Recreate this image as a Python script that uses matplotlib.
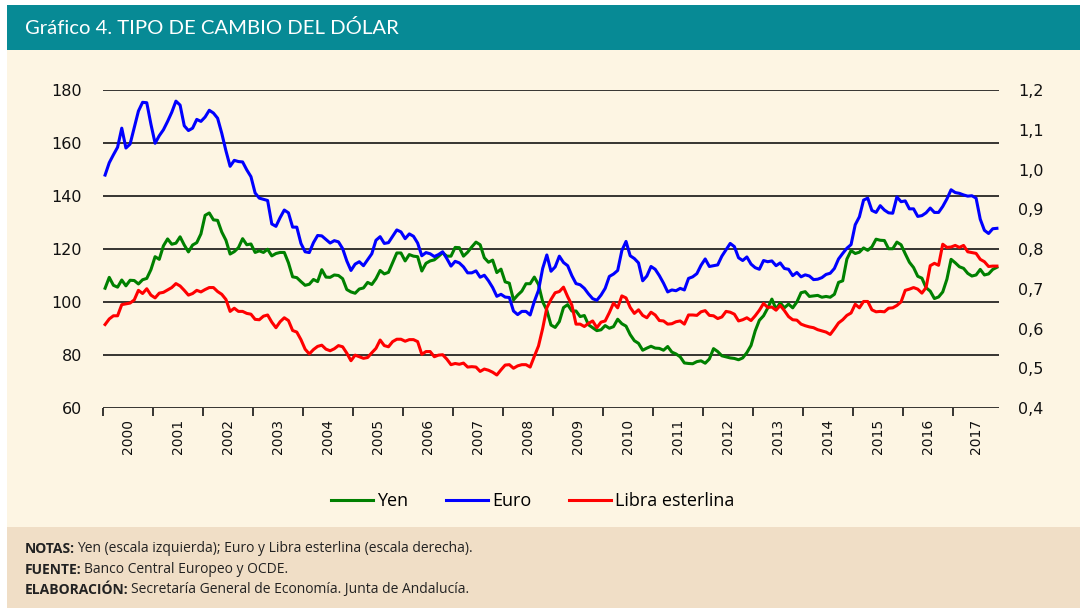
import matplotlib
matplotlib.use("Agg")
import matplotlib.pyplot as plt
import matplotlib.patches as patches
import numpy as np

# monthly data, Jan 2000 - Nov 2017
yen = [105.2, 109.3, 106.3, 105.6, 108.3, 106.1, 108.2, 108.1, 106.8, 108.4, 108.9, 112.2,
       117.1, 116.1, 121.2, 123.8, 121.8, 122.2, 124.6, 121.5, 118.9, 121.5, 122.4, 125.7,
       132.7, 133.6, 131.0, 130.8, 126.4, 123.3, 118.1, 119.0, 120.5, 123.9, 121.6, 121.9,
       118.7, 119.3, 118.7, 119.9, 117.4, 118.3, 118.7, 118.7, 114.8, 109.5, 109.2, 107.7,
       106.3, 106.7, 108.5, 107.7, 112.2, 109.4, 109.3, 110.2, 110.0, 108.8, 104.7, 103.8,
       103.3, 104.9, 105.3, 107.4, 106.6, 108.8, 111.9, 110.6, 111.2, 114.9, 118.5, 118.5,
       115.5, 117.9, 117.3, 117.1, 111.7, 114.6, 115.5, 115.9, 117.2, 118.6, 117.3, 117.3,
       120.6, 120.5, 117.3, 118.8, 120.8, 122.6, 121.6, 116.7, 115.0, 115.8, 111.1, 112.4,
       107.6, 107.1, 100.8, 102.6, 104.1, 106.9, 106.9, 109.4, 106.6, 100.1, 96.9, 91.3,
       90.4, 92.6, 97.9, 99.0, 96.6, 96.6, 94.5, 94.9, 91.4, 90.3, 89.2, 89.5,
       91.1, 90.1, 90.7, 93.5, 91.8, 90.9, 87.7, 85.4, 84.4, 81.8, 82.6, 83.3,
       82.6, 82.5, 81.8, 83.2, 81.1, 80.4, 79.3, 77.0, 76.8, 76.7, 77.5, 77.8,
       76.9, 78.5, 82.4, 81.3, 79.7, 79.3, 78.9, 78.7, 78.2, 78.9, 80.9, 83.6,
       89.1, 93.1, 94.8, 97.7, 101.1, 97.3, 99.7, 97.8, 99.2, 97.8, 100.0, 103.5,
       103.9, 102.1, 102.3, 102.5, 101.8, 102.1, 101.8, 102.9, 107.4, 108.0, 116.2, 119.4,
       118.3, 118.8, 120.4, 119.5, 120.8, 123.7, 123.3, 123.2, 120.1, 120.1, 122.6, 121.6,
       118.2, 115.0, 113.0, 109.7, 109.0, 105.4, 104.1, 101.3, 101.9, 103.8, 108.6, 116.1,
       114.8, 113.3, 112.7, 110.8, 109.8, 110.2, 112.3, 110.2, 110.6, 112.3, 113.1]

euro = [0.986, 1.017, 1.037, 1.056, 1.104, 1.054, 1.064, 1.106, 1.147, 1.169, 1.168, 1.114,
        1.066, 1.085, 1.100, 1.121, 1.144, 1.172, 1.162, 1.110, 1.098, 1.104, 1.126, 1.121,
        1.132, 1.149, 1.142, 1.129, 1.091, 1.047, 1.008, 1.023, 1.020, 1.019, 0.999, 0.982,
        0.941, 0.928, 0.925, 0.922, 0.863, 0.857, 0.879, 0.898, 0.891, 0.855, 0.855, 0.814,
        0.793, 0.791, 0.816, 0.834, 0.833, 0.824, 0.815, 0.821, 0.818, 0.801, 0.770, 0.746,
        0.762, 0.768, 0.758, 0.773, 0.788, 0.822, 0.831, 0.814, 0.816, 0.832, 0.848, 0.843,
        0.826, 0.838, 0.832, 0.815, 0.783, 0.791, 0.788, 0.781, 0.786, 0.793, 0.776, 0.757,
        0.769, 0.765, 0.755, 0.740, 0.740, 0.745, 0.729, 0.734, 0.720, 0.703, 0.681, 0.686,
        0.679, 0.678, 0.644, 0.635, 0.643, 0.643, 0.634, 0.668, 0.696, 0.751, 0.785, 0.744,
        0.755, 0.782, 0.766, 0.758, 0.733, 0.713, 0.710, 0.701, 0.687, 0.675, 0.671, 0.684,
        0.701, 0.731, 0.737, 0.746, 0.796, 0.819, 0.783, 0.776, 0.765, 0.720, 0.732, 0.756,
        0.749, 0.733, 0.714, 0.692, 0.697, 0.695, 0.701, 0.697, 0.726, 0.730, 0.738, 0.759,
        0.775, 0.756, 0.758, 0.760, 0.782, 0.798, 0.814, 0.806, 0.778, 0.771, 0.780, 0.762,
        0.753, 0.749, 0.771, 0.768, 0.770, 0.758, 0.765, 0.751, 0.749, 0.733, 0.741, 0.730,
        0.735, 0.732, 0.723, 0.724, 0.728, 0.736, 0.739, 0.751, 0.775, 0.789, 0.802, 0.811,
        0.861, 0.881, 0.923, 0.928, 0.897, 0.892, 0.909, 0.898, 0.891, 0.890, 0.931, 0.919,
        0.921, 0.901, 0.901, 0.882, 0.884, 0.891, 0.903, 0.892, 0.892, 0.907, 0.926, 0.949,
        0.942, 0.940, 0.936, 0.933, 0.934, 0.928, 0.875, 0.847, 0.839, 0.851, 0.852]

libra = [0.610, 0.624, 0.632, 0.632, 0.660, 0.662, 0.664, 0.672, 0.696, 0.688, 0.700, 0.684,
         0.677, 0.689, 0.691, 0.697, 0.703, 0.713, 0.707, 0.696, 0.684, 0.688, 0.696, 0.692,
         0.698, 0.703, 0.703, 0.693, 0.686, 0.673, 0.643, 0.651, 0.643, 0.643, 0.638, 0.636,
         0.623, 0.622, 0.631, 0.634, 0.616, 0.602, 0.617, 0.627, 0.620, 0.595, 0.591, 0.572,
         0.548, 0.536, 0.547, 0.555, 0.558, 0.548, 0.544, 0.549, 0.557, 0.554, 0.538, 0.519,
         0.533, 0.529, 0.525, 0.527, 0.539, 0.550, 0.571, 0.557, 0.554, 0.567, 0.573, 0.573,
         0.568, 0.572, 0.572, 0.567, 0.535, 0.542, 0.542, 0.529, 0.533, 0.534, 0.523, 0.509,
         0.512, 0.510, 0.513, 0.503, 0.504, 0.503, 0.492, 0.498, 0.495, 0.490, 0.483, 0.496,
         0.508, 0.509, 0.500, 0.506, 0.509, 0.509, 0.503, 0.530, 0.556, 0.600, 0.652, 0.673,
         0.690, 0.693, 0.704, 0.680, 0.659, 0.611, 0.611, 0.605, 0.613, 0.619, 0.602, 0.616,
         0.619, 0.640, 0.664, 0.652, 0.682, 0.677, 0.653, 0.638, 0.647, 0.633, 0.627, 0.641,
         0.634, 0.620, 0.619, 0.611, 0.612, 0.617, 0.619, 0.611, 0.634, 0.634, 0.633, 0.642,
         0.645, 0.633, 0.632, 0.625, 0.629, 0.643, 0.641, 0.636, 0.619, 0.622, 0.627, 0.620,
         0.632, 0.646, 0.663, 0.653, 0.654, 0.646, 0.658, 0.645, 0.630, 0.622, 0.621, 0.611,
         0.607, 0.604, 0.602, 0.597, 0.594, 0.591, 0.585, 0.599, 0.614, 0.622, 0.633, 0.639,
         0.661, 0.652, 0.668, 0.668, 0.647, 0.642, 0.643, 0.642, 0.651, 0.652, 0.658, 0.667,
         0.696, 0.699, 0.703, 0.699, 0.689, 0.703, 0.758, 0.764, 0.759, 0.812, 0.804, 0.805,
         0.809, 0.804, 0.809, 0.793, 0.791, 0.789, 0.774, 0.768, 0.756, 0.757, 0.757]

years = [str(y) for y in range(2000, 2018)]

teal = '#078a95'
cream = '#fdf5e3'
beige = '#f0dec6'
narrow = ['Liberation Sans Narrow', 'Open Sans', 'DejaVu Sans']

fig = plt.figure(figsize=(10.8, 6.08), dpi=100)
fig.patch.set_facecolor('white')

# background bands
fig.add_artist(patches.Rectangle((7/1080, 1-50/608), 1, 45/608, transform=fig.transFigure,
                                 facecolor=teal, edgecolor='none', zorder=0))
fig.add_artist(patches.Rectangle((7/1080, 1-527/608), 1, 477/608, transform=fig.transFigure,
                                 facecolor=cream, edgecolor='none', zorder=0))
fig.add_artist(patches.Rectangle((7/1080, 0), 1, 1-527/608, transform=fig.transFigure,
                                 facecolor=beige, edgecolor='none', zorder=0))

fig.text(25/1080, 1-28/608, 'Gráfico 4. TIPO DE CAMBIO DEL DÓLAR', color='white',
         fontsize=14.6, va='center', ha='left', family=['Lato', 'DejaVu Sans'])

ax = fig.add_axes([103/1080, 1-408/608, 896/1080, 318/608])
ax.patch.set_visible(False)
x = np.arange(len(yen))

for v in range(60, 181, 20):
    ax.axhline(v, color='black', lw=1.1, zorder=1)

l1, = ax.plot(x, yen, color='#008000', lw=2.2, label='Yen', zorder=3)
ax.set_xlim(-0.5, len(yen) - 0.5)
ax.set_ylim(60, 180)
ax.set_yticks(range(60, 181, 20))

ax2 = ax.twinx()
l2, = ax2.plot(x, euro, color='#0000ff', lw=2.2, label='Euro', zorder=3)
l3, = ax2.plot(x, libra, color='#ff0000', lw=2.2, label='Libra esterlina', zorder=3)
ax2.set_ylim(0.4, 1.2)
ax2.set_yticks(np.arange(0.4, 1.21, 0.1))
ax2.set_yticklabels([f'{v:.1f}'.replace('.', ',') for v in np.arange(0.4, 1.21, 0.1)])

for a in (ax, ax2):
    for s in ('top', 'left', 'right', 'bottom'):
        a.spines[s].set_visible(False)

ax.tick_params(axis='y', length=0, pad=15, labelsize=11.5, labelcolor='#111111')
ax2.tick_params(axis='y', length=0, pad=14, labelsize=11.5, labelcolor='#111111')

# year boundaries as ticks, year labels centred between them
starts = [12 * k - 0.5 for k in range(len(years))]
ends = starts[1:] + [len(yen) - 0.5]
centres = [(a + b) / 2 for a, b in zip(starts, ends)]
ax.set_xticks(starts)
ax.set_xticklabels([])
ax.set_xticks(centres, minor=True)
ax.set_xticklabels(years, minor=True, rotation=90)
ax.tick_params(axis='x', which='major', length=6, width=1.1, color='black', direction='out')
ax.tick_params(axis='x', which='minor', length=0, pad=8, labelsize=10, labelcolor='#111111')

fig.legend([l1, l2, l3], ['Yen', 'Euro', 'Libra esterlina'], loc='center',
           bbox_to_anchor=(533/1080, 1-501/608), ncol=3, frameon=False,
           handlelength=2.3, handletextpad=0.25, columnspacing=2.1,
           prop={'family': narrow, 'size': 13})

notes = [('NOTAS:', 'Yen (escala izquierda); Euro y Libra esterlina (escala derecha).'),
         ('FUENTE:', 'Banco Central Europeo y OCDE.'),
         ('ELABORACIÓN:', 'Secretaría General de Economía. Junta de Andalucía.')]
for i, (head, body) in enumerate(notes):
    yy = 1 - (549 + 20.5 * i) / 608
    t = fig.text(25/1080, yy, head, fontsize=10, fontweight='bold', color='#222222',
                 va='center', ha='left', family=narrow)
    ax.annotate(body, xy=(1, 0.5), xycoords=t, xytext=(1.5, 0), textcoords='offset points',
                va='center', ha='left', fontsize=10, color='#222222', family=narrow,
                annotation_clip=False)

fig.savefig('out.png', dpi=100, facecolor=fig.get_facecolor())
